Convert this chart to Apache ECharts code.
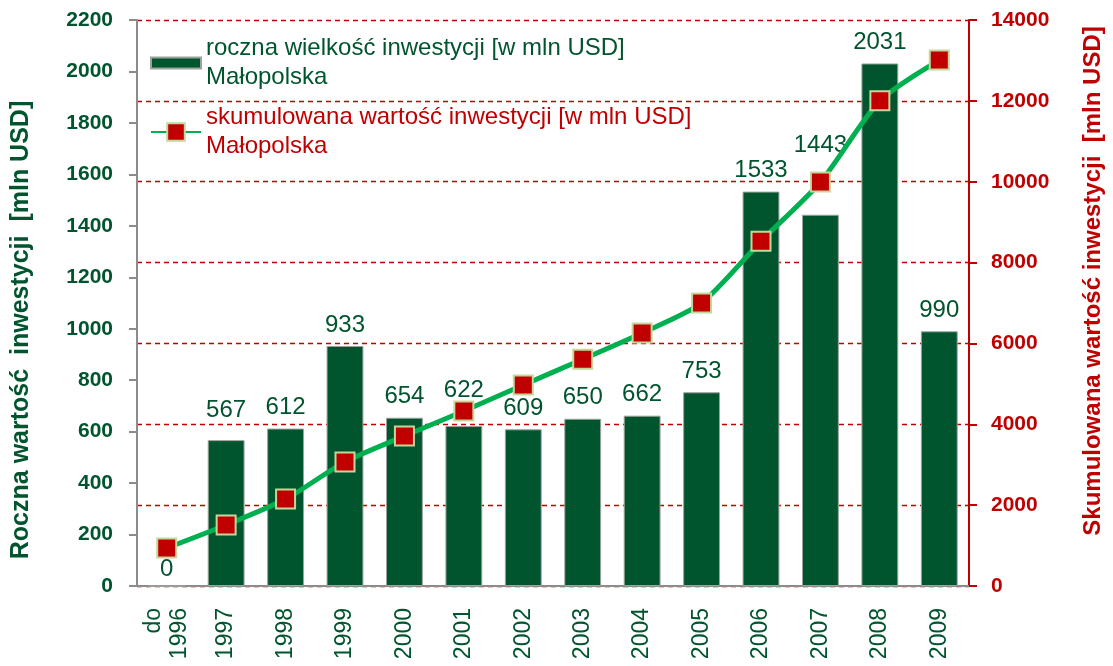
<!DOCTYPE html>
<html lang="pl">
<head>
    <meta charset="UTF-8">
    <title>Inwestycje Małopolska</title>
    <script src="https://cdn.jsdelivr.net/npm/echarts@6.0.0/dist/echarts.min.js"></script>
    <style>
        html, body { margin: 0; padding: 0; background: #fff; }
        #chart { width: 1113px; height: 666px; }
    </style>
</head>
<body>
    <div id="chart"></div>
    <script>
        // dane
        const years = ['do\n1996', '1997', '1998', '1999', '2000', '2001', '2002', '2003', '2004', '2005', '2006', '2007', '2008', '2009'];
        const annual = [0, 567, 612, 933, 654, 622, 609, 650, 662, 753, 1533, 1443, 2031, 990];
        const cumulative = [940, 1510, 2150, 3070, 3710, 4330, 4970, 5610, 6260, 7000, 8530, 9990, 12000, 13010];

        const barName = 'roczna wielkość inwestycji [w mln USD]\nMałopolska';
        const lineName = 'skumulowana wartość inwestycji [w mln USD]\nMałopolska';

        const green = '#00552E';
        const red = '#C00000';
        const font = 'Liberation Sans, Arial, sans-serif';

        // etykiety przesunięte ręcznie jak w oryginale
        const labelDistance = { 0: 4, 1: 18, 5: 24, 11: 57 };

        const chart = echarts.init(document.getElementById('chart'));

        const plain = v => String(v);

        const barData = annual.map((v, i) => labelDistance[i] !== undefined
            ? { value: v, label: { distance: labelDistance[i] } }
            : v);

        chart.setOption({
            animation: false,
            textStyle: { fontFamily: font },
            grid: { left: 137, right: 140, top: 20, bottom: 80 },
            legend: [
                {
                    left: 150, top: 34, padding: 0,
                    itemWidth: 50, itemHeight: 11, icon: 'rect',
                    textStyle: { fontSize: 24, lineHeight: 29, color: green, fontFamily: font },
                    data: [barName]
                },
                {
                    left: 150, top: 103, padding: 0,
                    itemWidth: 50, itemHeight: 22,
                    textStyle: { fontSize: 24, lineHeight: 29, color: red, fontFamily: font },
                    data: [lineName]
                }
            ],
            xAxis: {
                type: 'category',
                data: years,
                axisLine: { lineStyle: { color: '#8c8c8c', width: 2 } },
                axisTick: { length: 8, lineStyle: { color: '#8c8c8c', width: 2 } },
                axisLabel: { rotate: 90, fontSize: 23, color: green, margin: 22, lineHeight: 26 }
            },
            yAxis: [
                {
                    type: 'value',
                    min: 0, max: 2200, interval: 200,
                    name: 'Roczna wartość  inwestycji  [mln USD]',
                    nameLocation: 'middle',
                    nameGap: 103,
                    nameTextStyle: { fontSize: 25, fontWeight: 'bold', color: green, padding: [0, 54, 0, 0] },
                    axisLine: { show: true, lineStyle: { color: '#8c8c8c', width: 2 } },
                    axisTick: { show: true, length: 8, lineStyle: { color: '#8c8c8c', width: 2 } },
                    axisLabel: { fontSize: 21, fontWeight: 'bold', color: green, margin: 24, formatter: plain },
                    splitLine: { show: false }
                },
                {
                    type: 'value',
                    min: 0, max: 14000, interval: 2000,
                    name: 'Skumulowana wartość inwestycji  [mln USD]',
                    nameLocation: 'middle',
                    nameGap: 112,
                    nameRotate: 90,
                    nameTextStyle: { fontSize: 24, fontWeight: 'bold', color: red, padding: [0, 0, 0, 44] },
                    axisLine: { show: true, lineStyle: { color: red, width: 2 } },
                    axisTick: { show: true, length: 8, lineStyle: { color: red, width: 2 } },
                    axisLabel: { fontSize: 21, fontWeight: 'bold', color: red, margin: 22, formatter: plain },
                    splitLine: { show: true, lineStyle: { color: red, type: [5, 4], width: 1.3 } }
                }
            ],
            series: [
                {
                    name: barName,
                    type: 'bar',
                    data: barData,
                    barWidth: '62%',
                    itemStyle: { color: green, borderColor: '#9aa39c', borderWidth: 1 },
                    label: { show: true, position: 'top', distance: 9, fontSize: 24, color: green },
                    z: 2
                },
                {
                    name: lineName,
                    type: 'line',
                    yAxisIndex: 1,
                    data: cumulative,
                    smooth: 0.25,
                    symbol: 'rect',
                    symbolSize: 19,
                    lineStyle: { color: '#00B050', width: 5 },
                    itemStyle: { color: red, borderColor: '#C4D79B', borderWidth: 2 },
                    z: 3
                }
            ]
        });

        window.addEventListener('resize', function () {
            chart.resize();
        });
    </script>
</body>
</html>
